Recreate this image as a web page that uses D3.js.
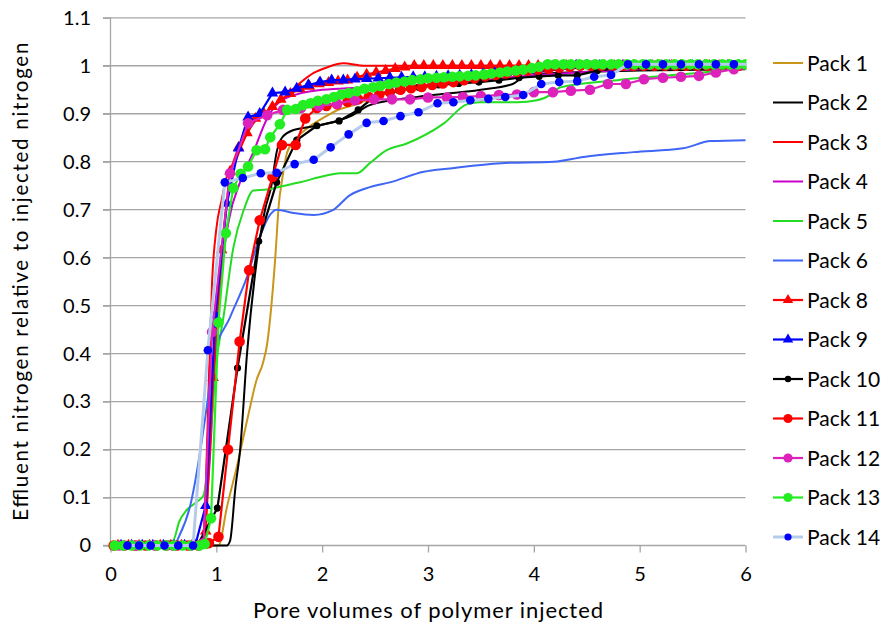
<!DOCTYPE html>
<html>
<head>
<meta charset="utf-8">
<script src="https://cdn.jsdelivr.net/npm/d3@7"></script>
<style>
  html, body { margin: 0; padding: 0; background: #fff; }
  svg { display: block; font-family: Lato, "Open Sans", sans-serif; }
</style>
</head>
<body>
<svg id="chart" width="889" height="629"></svg>
<script>
// Breakthrough curves: pore volumes of polymer injected vs. relative effluent nitrogen
const xTicks = [0, 1, 2, 3, 4, 5, 6];
const yTicks = [0, 0.1, 0.2, 0.3, 0.4, 0.5, 0.6, 0.7, 0.8, 0.9, 1, 1.1];
const yTickLabels = ["0", "0.1", "0.2", "0.3", "0.4", "0.5", "0.6", "0.7", "0.8", "0.9", "1", "1.1"];

const pack1 = [[0,0],[0.95,0],[1.02,0],[1.1,0.08],[1.2,0.17],[1.3,0.27],[1.38,0.345],[1.44,0.38],[1.48,0.42],[1.52,0.5],[1.56,0.61],[1.59,0.71],[1.62,0.76],[1.67,0.82],[1.76,0.85],[1.86,0.87],[2.0,0.89],[2.17,0.91],[2.3,0.918],[2.5,0.935],[3.0,0.958],[3.5,0.975],[4.0,0.99],[4.5,0.996],[5.0,1.0],[6.0,1.0]];
const pack2 = [[0,0],[1.1,0],[1.13,0.01],[1.18,0.12],[1.225,0.2],[1.29,0.4],[1.38,0.59],[1.46,0.7],[1.52,0.75],[1.57,0.82],[1.62,0.85],[1.73,0.866],[1.98,0.876],[2.17,0.887],[2.27,0.895],[2.45,0.918],[2.9,0.935],[3.5,0.95],[3.8,0.962],[3.9,0.976],[4.2,0.985],[5.0,0.99],[6.0,0.993]];
const pack3 = [[0,0],[0.86,0],[0.9,0.12],[0.93,0.35],[0.96,0.55],[1.0,0.66],[1.05,0.72],[1.1,0.77],[1.18,0.8],[1.25,0.84],[1.35,0.88],[1.45,0.9],[1.6,0.925],[1.79,0.964],[1.92,0.985],[2.05,0.997],[2.2,1.005],[2.4,1.0],[3.0,1.0],[6.0,1.0]];
const pack4 = [[0,0],[0.85,0],[0.93,0.15],[0.98,0.35],[1.04,0.55],[1.12,0.68],[1.22,0.755],[1.35,0.82],[1.48,0.89],[1.63,0.93],[2.0,0.95],[3.0,0.96],[4.0,0.98],[5.0,0.993],[6.0,0.998]];
const pack5 = [[0,0],[0.59,0.01],[0.65,0.05],[0.72,0.074],[0.81,0.09],[0.88,0.105],[0.95,0.25],[1.0,0.38],[1.07,0.48],[1.16,0.62],[1.26,0.7],[1.35,0.74],[1.48,0.742],[1.6,0.748],[1.79,0.757],[1.98,0.768],[2.17,0.776],[2.33,0.776],[2.45,0.797],[2.61,0.824],[2.8,0.838],[3.15,0.88],[3.37,0.92],[3.49,0.924],[3.84,0.924],[4.03,0.928],[4.16,0.94],[4.25,0.955],[4.79,0.97],[5.64,0.987],[6.0,0.995]];
const pack6 = [[0,0],[0.6,0],[0.65,0.02],[0.75,0.08],[0.91,0.29],[0.97,0.39],[1.13,0.476],[1.29,0.56],[1.41,0.643],[1.51,0.69],[1.57,0.7],[1.73,0.693],[1.92,0.689],[2.1,0.699],[2.26,0.73],[2.45,0.747],[2.64,0.757],[2.96,0.779],[3.21,0.786],[3.69,0.797],[4.19,0.8],[4.47,0.81],[4.94,0.82],[5.41,0.828],[5.67,0.843],[6.0,0.845]];
const pack8 = [[0.07,0],[0.17,0],[0.27,0],[0.37,0],[0.47,0],[0.57,0],[0.67,0],[0.77,0],[0.87,0],[0.9,0.03],[0.97,0.35],[1.05,0.616],[1.13,0.78],[1.21,0.83],[1.29,0.86],[1.37,0.89],[1.45,0.9],[1.53,0.915],[1.61,0.93],[1.7,0.942],[1.79,0.952],[1.88,0.957],[1.97,0.962],[2.06,0.965],[2.15,0.968],[2.24,0.97],[2.33,0.976],[2.42,0.982],[2.51,0.986],[2.6,0.99],[2.69,0.994],[2.78,0.997],[2.87,1.0],[2.96,1.0],[3.05,1.0],[3.14,1.0],[3.23,1.0],[3.32,1.0],[3.41,1.0],[3.5,1.0],[3.59,1.0],[3.68,1.0],[3.77,1.0],[3.86,1.0],[3.95,1.0],[4.04,1.0],[4.13,1.0],[4.22,1.0],[4.31,1.0],[4.4,1.0],[4.49,1.0],[4.58,1.0],[4.67,1.0],[4.76,1.0],[4.85,1.0],[4.94,1.0],[5.03,1.0],[5.12,1.0],[5.21,1.0],[5.3,1.0],[5.39,1.0],[5.48,1.0],[5.57,1.0],[5.66,1.0],[5.75,1.0],[5.84,1.0],[5.93,1.0]];
const pack9 = [[0.1,0],[0.2,0],[0.3,0],[0.4,0],[0.5,0],[0.6,0],[0.7,0],[0.8,0],[0.9,0.083],[0.99,0.48],[1.1,0.713],[1.21,0.828],[1.3,0.893],[1.41,0.9],[1.53,0.943],[1.65,0.945],[1.76,0.953],[1.87,0.96],[1.98,0.966],[2.09,0.97],[2.2,0.97],[2.31,0.972],[2.42,0.973],[2.53,0.974],[2.64,0.975],[2.75,0.976],[2.86,0.977],[2.97,0.977],[3.08,0.978],[3.19,0.979],[3.3,0.98],[3.41,0.981],[3.52,0.983],[3.63,0.985],[3.74,0.986],[3.85,0.988],[3.96,0.99],[4.07,0.993],[4.18,0.996],[4.29,0.998],[4.4,1.0],[4.51,1.0],[4.62,1.0],[4.73,1.0],[4.84,1.0],[4.95,1.0],[5.06,1.0],[5.17,1.0],[5.28,1.0],[5.39,1.0],[5.5,1.0],[5.61,1.0],[5.72,1.0],[5.83,1.0],[5.94,1.0]];
const pack10 = [[0.06,0],[0.25,0],[0.44,0],[0.63,0],[0.82,0],[1.01,0.078],[1.2,0.37],[1.4,0.634],[1.57,0.757],[1.76,0.845],[1.95,0.875],[2.16,0.885],[2.34,0.908],[2.53,0.942],[2.72,0.949],[2.91,0.955],[3.1,0.96],[3.29,0.963],[3.48,0.966],[3.67,0.97],[3.86,0.975],[4.05,0.978],[4.23,0.98],[4.41,0.98],[4.6,0.99],[4.8,0.995],[4.99,1.0],[5.18,1.0],[5.37,1.0],[5.56,1.0],[5.75,1.0],[5.94,1.0]];
const pack11 = [[0.03,0],[0.13,0],[0.23,0],[0.33,0],[0.43,0],[0.53,0],[0.63,0],[0.73,0],[0.83,0],[0.93,0.005],[1.02,0.018],[1.11,0.2],[1.22,0.425],[1.31,0.574],[1.41,0.678],[1.53,0.768],[1.62,0.835],[1.75,0.835],[1.84,0.89],[1.95,0.912],[2.04,0.916],[2.14,0.92],[2.24,0.925],[2.34,0.93],[2.44,0.935],[2.54,0.94],[2.64,0.945],[2.74,0.95],[2.84,0.953],[2.94,0.956],[3.04,0.96],[3.14,0.963],[3.24,0.966],[3.34,0.97],[3.44,0.974],[3.54,0.978],[3.64,0.981],[3.74,0.984],[3.84,0.987],[3.94,0.99],[4.04,0.992],[4.14,0.994],[4.24,0.996],[4.34,0.998],[4.44,1.0],[4.54,1.0],[4.64,1.0],[4.74,1.0],[4.84,1.0],[4.94,1.0],[5.04,1.0],[5.14,1.0],[5.24,1.0],[5.34,1.0],[5.44,1.0],[5.54,1.0],[5.64,1.0],[5.74,1.0],[5.84,1.0],[5.94,1.0]];
const pack12 = [[0.08,0],[0.25,0],[0.42,0],[0.59,0],[0.76,0],[0.88,0.005],[0.96,0.445],[1.13,0.776],[1.3,0.88],[1.48,0.897],[1.63,0.908],[1.8,0.912],[1.97,0.916],[2.14,0.921],[2.31,0.928],[2.49,0.93],[2.66,0.93],[2.83,0.93],[3.0,0.934],[3.18,0.934],[3.33,0.935],[3.5,0.937],[3.67,0.939],[3.84,0.94],[4.0,0.945],[4.18,0.945],[4.35,0.948],[4.53,0.95],[4.7,0.962],[4.87,0.962],[5.04,0.972],[5.22,0.975],[5.39,0.977],[5.56,0.979],[5.72,0.986],[5.89,0.993],[6.06,0.996]];
const pack13 = [[0.04,0],[0.12,0],[0.2,0],[0.28,0],[0.36,0],[0.44,0],[0.52,0],[0.6,0],[0.68,0],[0.76,0],[0.84,0],[0.89,0.003],[0.95,0.057],[1.02,0.465],[1.09,0.651],[1.16,0.745],[1.23,0.775],[1.3,0.79],[1.38,0.824],[1.46,0.826],[1.51,0.851],[1.6,0.878],[1.67,0.908],[1.75,0.91],[1.82,0.918],[1.89,0.922],[1.96,0.927],[2.04,0.93],[2.11,0.935],[2.18,0.94],[2.25,0.943],[2.33,0.947],[2.4,0.952],[2.48,0.955],[2.55,0.958],[2.63,0.962],[2.7,0.965],[2.78,0.967],[2.85,0.97],[2.93,0.972],[3.0,0.974],[3.08,0.975],[3.15,0.976],[3.23,0.977],[3.3,0.978],[3.38,0.979],[3.45,0.98],[3.53,0.982],[3.6,0.984],[3.68,0.986],[3.75,0.988],[3.83,0.99],[3.9,0.992],[3.98,0.995],[4.05,0.998],[4.13,1.003],[4.2,1.003],[4.28,1.003],[4.35,1.003],[4.43,1.003],[4.5,1.003],[4.58,1.003],[4.65,1.003],[4.73,1.003],[4.8,1.003],[4.88,1.003],[4.95,1.003],[5.03,1.003],[5.1,1.003],[5.18,1.003],[5.25,1.003],[5.33,1.003],[5.4,1.003],[5.48,1.003],[5.55,1.003],[5.63,1.003],[5.7,1.003],[5.78,1.003],[5.85,1.003],[5.93,1.003],[6.0,1.003]];
const pack14 = [[0.16,0],[0.27,0],[0.38,0],[0.51,0],[0.64,0],[0.78,0],[0.92,0.407],[1.08,0.757],[1.25,0.766],[1.42,0.776],[1.57,0.777],[1.74,0.795],[1.92,0.804],[2.08,0.83],[2.25,0.857],[2.42,0.881],[2.58,0.885],[2.74,0.895],[2.91,0.903],[3.09,0.922],[3.24,0.924],[3.4,0.928],[3.57,0.931],[3.73,0.935],[3.9,0.939],[4.07,0.962],[4.24,0.966],[4.41,0.968],[4.57,0.977],[4.73,0.981],[4.89,1.003],[5.06,1.003],[5.22,1.003],[5.39,1.003],[5.56,1.003],[5.72,1.003],[5.89,1.003],[6.05,1.003]];

const packNames = ["Pack 1","Pack 2","Pack 3","Pack 4","Pack 5","Pack 6","Pack 8","Pack 9","Pack 10","Pack 11","Pack 12","Pack 13","Pack 14"];
const packData = [pack1, pack2, pack3, pack4, pack5, pack6, pack8, pack9, pack10, pack11, pack12, pack13, pack14];
const lineColors = ["#C9961A","#000000","#FF0000","#CC00CC","#22DD22","#3F66F5","#FF0000","#0000FF","#000000","#FF0000","#DD22BB","#22EE22","#B4CCEA"];
const markerColors = [null,null,null,null,null,null,"#FF0000","#0000FF","#000000","#FF0000","#DD22BB","#22EE22","#0000FF"];
const markerShapes = [null,null,null,null,null,null,"triangle","triangle","circle","circle","circle","circle","circle"];
const markerSizes = [0,0,0,0,0,0,5.5,5.5,3.6,5.3,5.3,5.3,4.3];
const legendMarkerSizes = [0,0,0,0,0,0,5,5,3.2,4.6,4.6,4.6,3.6];
const lineWidths = [2,2,2,2,2,2,2.2,2.2,2.2,2.2,2.2,2.2,3];

const svg = d3.select("#chart");
const x = d3.scaleLinear().domain([0, 6]).range([110.5, 745.5]);
const y = d3.scaleLinear().domain([0, 1.1]).range([545.5, 17.8]);

// Horizontal gridlines with outward ticks on the value axis
svg.append("g")
  .selectAll("line")
  .data(yTicks.filter(d => d > 0))
  .join("line")
  .attr("x1", 103).attr("x2", 745.5)
  .attr("y1", d => y(d)).attr("y2", d => y(d))
  .attr("stroke", "#A6A6A6").attr("stroke-width", 1.3);

// Axes
const xAxis = d3.axisBottom(x).tickValues(xTicks).tickSize(7).tickPadding(14).tickFormat(d3.format("d"));
const gx = svg.append("g").attr("transform", `translate(0,${y(0)})`).call(xAxis);
gx.select(".domain").attr("stroke", "#A6A6A6").attr("stroke-width", 1.3).attr("d", `M103,0H745.5`);
gx.selectAll(".tick line").attr("stroke", "#A6A6A6").attr("stroke-width", 1.3);
gx.selectAll(".tick text").attr("font-size", 20).attr("fill", "#000").attr("font-family", "Lato, sans-serif");

const yAxis = d3.axisLeft(y).tickValues(yTicks).tickSize(7.5).tickPadding(12).tickFormat((d, i) => yTickLabels[i]);
const gy = svg.append("g").attr("transform", `translate(${x(0)},0)`).call(yAxis);
gy.select(".domain").attr("stroke", "#A6A6A6").attr("stroke-width", 1.3).attr("d", `M0,${y(1.1)}V${y(0)}`);
gy.selectAll(".tick line").attr("stroke", "#A6A6A6").attr("stroke-width", 1.3);
gy.selectAll(".tick text").attr("font-size", 20).attr("fill", "#000").attr("font-family", "Lato, sans-serif");

// Axis titles
svg.append("text")
  .attr("x", 428).attr("y", 618)
  .attr("text-anchor", "middle")
  .attr("font-size", 22)
  .attr("textLength", 350).attr("lengthAdjust", "spacing")
  .text("Pore volumes of polymer injected");
svg.append("text")
  .attr("transform", `translate(28,${(y(0) + y(1.1)) / 2}) rotate(-90)`)
  .attr("text-anchor", "middle")
  .attr("font-size", 20.5)
  .attr("textLength", 478).attr("lengthAdjust", "spacing")
  .text("Effluent nitrogen relative to injected nitrogen");

// Plot clip so traces stop at the axis range
svg.append("clipPath").attr("id", "plotClip")
  .append("rect").attr("x", x(0) - 8).attr("y", y(1.1) - 8)
  .attr("width", x(6) - x(0) + 9).attr("height", y(0) - y(1.1) + 16);

const plot = svg.append("g").attr("clip-path", "url(#plotClip)");

const smooth = d3.line().x(d => x(d[0])).y(d => y(d[1])).curve(d3.curveMonotoneX);
const straight = d3.line().x(d => x(d[0])).y(d => y(d[1]));
const triangle = d3.symbol().type(d3.symbolTriangle);

function drawMarker(sel, shape, size, color) {
  if (shape === "triangle") {
    sel.append("path")
      .attr("d", triangle.size(size * size * 1.9)())
      .attr("fill", color);
  } else {
    sel.append("circle").attr("r", size).attr("fill", color);
  }
}

packData.forEach((data, i) => {
  const g = plot.append("g");
  g.append("path")
    .datum(data)
    .attr("d", markerShapes[i] ? straight : smooth)
    .attr("fill", "none")
    .attr("stroke", lineColors[i])
    .attr("stroke-width", lineWidths[i])
    .attr("stroke-linejoin", "round");
  if (markerShapes[i]) {
    const m = g.selectAll("g.mk")
      .data(data.filter(d => d[0] <= 6.01))
      .join("g").attr("class", "mk")
      .attr("transform", d => `translate(${x(d[0])},${y(d[1])})`);
    drawMarker(m, markerShapes[i], markerSizes[i], markerColors[i]);
  }
});

// Legend
const legend = svg.append("g");
packNames.forEach((name, i) => {
  const cy = 63 + i * 39.5;
  const row = legend.append("g").attr("transform", `translate(0,${cy})`);
  row.append("line")
    .attr("x1", 773).attr("x2", 803)
    .attr("stroke", lineColors[i])
    .attr("stroke-width", lineWidths[i]);
  if (markerShapes[i]) {
    const m = row.append("g").attr("transform", "translate(788,0)");
    drawMarker(m, markerShapes[i], legendMarkerSizes[i], markerColors[i]);
  }
  row.append("text")
    .attr("x", 807).attr("y", 0).attr("dy", "0.36em")
    .attr("font-size", 21)
    .text(name);
});
</script>
</body>
</html>
